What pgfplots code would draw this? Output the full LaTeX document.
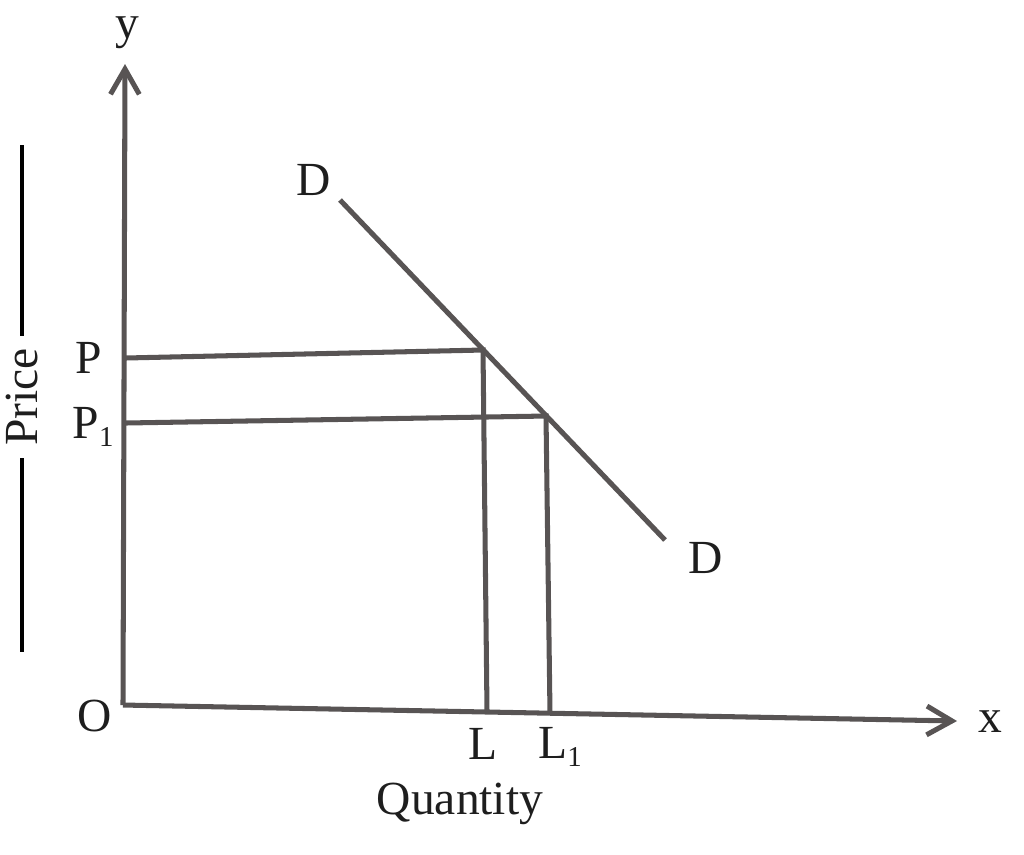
\documentclass[border=0pt]{standalone}
\usepackage{pgfplots}
\pgfplotsset{compat=1.18}
\usepackage{fontspec}
\setmainfont{Liberation Serif}
\usetikzlibrary{arrows.meta}
\definecolor{ink}{RGB}{88,84,84}
\definecolor{txt}{RGB}{30,30,30}
\tikzset{lab/.style={text=txt,font=\fontsize{13.2}{15}\selectfont,inner sep=0pt}}
\newcommand{\sub}[1]{{\fontsize{8}{10}\selectfont\raisebox{-0.6ex}{#1}}}

\begin{document}
\begin{tikzpicture}
\begin{axis}[
    scale only axis,
    width=10cm, height=8.340cm,
    xmin=0, xmax=1024, ymin=0, ymax=854,
    y dir=reverse,
    axis lines=none, ticks=none,
    clip=false,
]
  \path (rel axis cs:0,0) rectangle (rel axis cs:1,1);

  % axes
  \addplot[ink,line width=1.4pt,-{Straight Barb[length=7pt,width=8pt,line width=1.4pt]}]
    coordinates {(123,705) (125,64)};
  \addplot[ink,line width=1.4pt,-{Straight Barb[length=7pt,width=8pt,line width=1.4pt]}]
    coordinates {(123,705) (957,721)};

  % demand curve
  \addplot[ink,line width=1.4pt] coordinates {(340,200) (665,540)};

  % price and quantity guides
  \addplot[ink,line width=1.4pt] coordinates {(125,358) (483,350) (487,712)};
  \addplot[ink,line width=1.4pt] coordinates {(125,423) (546,416) (550,714)};

  % Price label with rules
  \addplot[black,line width=1.2pt] coordinates {(22,145) (22,336)};
  \addplot[black,line width=1.2pt] coordinates {(22,458) (22,652)};
  \node[lab,rotate=90] at (axis cs:22,397) {Price};

  % labels
  \node[lab] at (axis cs:127,33) {y};
  \node[lab] at (axis cs:990,722) {x};
  \node[lab] at (axis cs:95,716) {O};
  \node[lab] at (axis cs:89,358) {P};
  \node[lab] at (axis cs:93,427) {P\sub{1}};
  \node[lab] at (axis cs:483,744) {L};
  \node[lab] at (axis cs:560,747) {L\sub{1}};
  \node[lab] at (axis cs:314,180) {D};
  \node[lab] at (axis cs:706,558) {D};
  \node[lab] at (axis cs:460,804) {Quantity};
\end{axis}
\end{tikzpicture}
\end{document}
